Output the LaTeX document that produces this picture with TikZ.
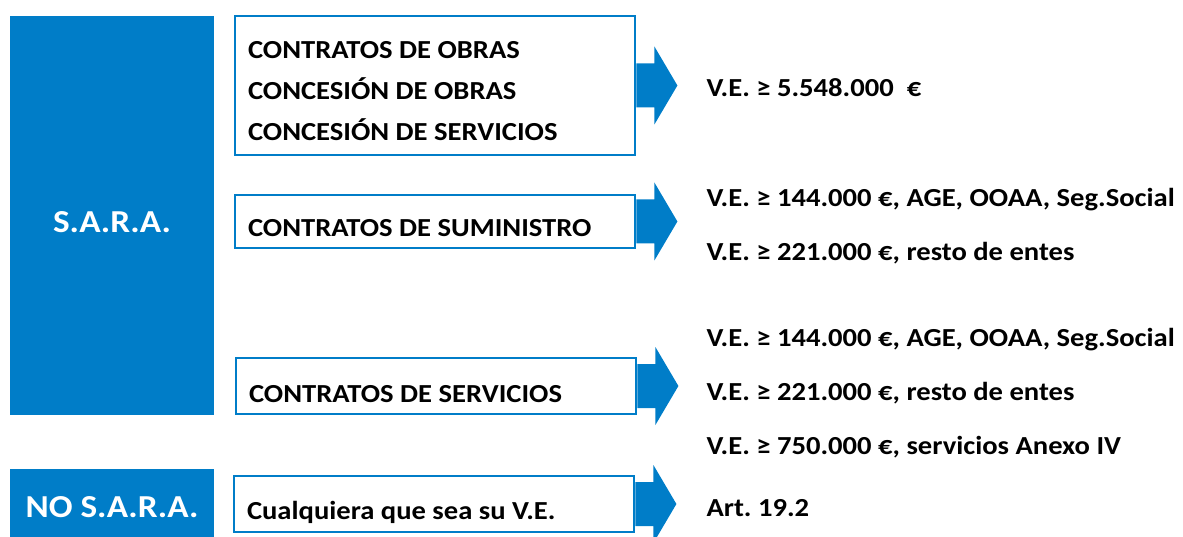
\documentclass[tikz,border=0pt]{standalone}
\usepackage{fontspec}
\setmainfont{Carlito}[FakeStretch=1.1]
\usepackage{xcolor}
\definecolor{sarablue}{RGB}{0,125,200}
\frenchspacing

\begin{document}
\begin{tikzpicture}[x=1pt, y=-1pt,
    font=\bfseries\fontsize{26}{41}\selectfont,
    bluebox/.style={fill=sarablue, text=white, inner sep=0pt,
        font=\bfseries\fontsize{32}{40}\selectfont, minimum width=204pt},
    kindbox/.style={draw=sarablue, line width=2.8pt, fill=white,
        inner xsep=13pt, align=flush left, text width=374pt, minimum height=#1},
    valtext/.style={anchor=west, align=left,
        font=\bfseries\fontsize{26}{54}\selectfont}]
    \useasboundingbox (0, 0) rectangle (1183, 537);

    \path (112, 215.5) node [bluebox, minimum height=399pt,
        text height=34pt, text depth=0pt] (sa) {S.A.R.A.};
    \path (112, 507) node [bluebox, minimum height=76pt] (ns) {NO S.A.R.A.};

    \path (435, 85.5) node [kindbox=139pt, text height=30pt, text depth=83pt] (co)
        {CONTRATOS DE OBRAS\\CONCESIÓN DE OBRAS\\CONCESIÓN DE SERVICIOS};
    \path (435, 221.5) node [kindbox=53pt, text height=31pt, text depth=0pt]
        (su) {CONTRATOS DE SUMINISTRO};
    \path (436, 386) node [kindbox=56pt, text height=32pt, text depth=0pt]
        (se) {CONTRATOS DE SERVICIOS};
    \path (434, 504) node [kindbox=56pt, text height=30pt, text depth=0pt]
        (cu) {Cualquiera que sea su V.E.};

    % block arrows out of each box
    \foreach \b in {co, su, se, cu}
        \fill [sarablue, shift={(\b.east)}] (0, -22) -- (18, -22) -- (18, -39)
            -- (41, 0) -- (18, 39) -- (18, 22) -- (0, 22) -- cycle;

    \path (703, 88) node [valtext] (vo) {V.E. ≥ 5.548.000~~€};
    \path (703, 226) node [valtext] (vsu)
        {V.E. ≥ 144.000 €, AGE, OOAA, Seg.Social\\V.E. ≥ 221.000 €, resto de entes};
    \path (703, 393) node [valtext] (vse)
        {V.E. ≥ 144.000 €, AGE, OOAA, Seg.Social\\V.E. ≥ 221.000 €, resto de entes\\
        V.E. ≥ 750.000 €, servicios Anexo IV};
    \path (703, 508) node [valtext] (ar) {Art. 19.2};
\end{tikzpicture}
\end{document}
